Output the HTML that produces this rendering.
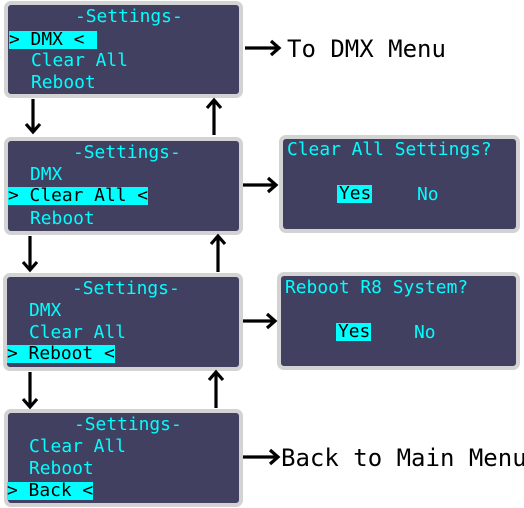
<!DOCTYPE html>
<html><head><style>
body{margin:0;width:524px;height:508px;background:#fff;position:relative;overflow:hidden;font-family:"DejaVu Sans Mono","Liberation Mono",monospace}
.b{position:absolute;background:#414061;border:4.5px solid #d3d3d3;border-radius:7px;box-sizing:border-box}
.t{position:absolute;font-size:17.9px;line-height:18px;color:#00ffff;white-space:pre}
.h{background:#00ffff;color:#000}
.big{position:absolute;font-size:24px;line-height:26px;color:#000;white-space:pre;font-family:"DejaVu Sans Mono",monospace}
svg{position:absolute;left:0;top:0}
</style></head><body>
<div class="b" style="left:4px;top:1px;width:239px;height:97px"></div>
<div class="b" style="left:4px;top:137px;width:239px;height:98px"></div>
<div class="b" style="left:3px;top:273px;width:240px;height:98px"></div>
<div class="b" style="left:4px;top:409px;width:239px;height:98px"></div>
<div class="b" style="left:279px;top:135px;width:241px;height:98px"></div>
<div class="b" style="left:277px;top:272px;width:243px;height:98px"></div>

<div class="t" style="left:75px;top:8px">-Settings-</div>
<div class="t h" style="left:9px;top:31px;width:88px">&gt; DMX &lt;</div>
<div class="t" style="left:31px;top:52px">Clear All</div>
<div class="t" style="left:31px;top:74px">Reboot</div>

<div class="t" style="left:73px;top:144px">-Settings-</div>
<div class="t" style="left:30px;top:166px">DMX</div>
<div class="t h" style="left:8px;top:187px">&gt; Clear All &lt;</div>
<div class="t" style="left:30px;top:210px">Reboot</div>

<div class="t" style="left:72px;top:280px">-Settings-</div>
<div class="t" style="left:29px;top:302px">DMX</div>
<div class="t" style="left:29px;top:324px">Clear All</div>
<div class="t h" style="left:7px;top:345px">&gt; Reboot &lt;</div>

<div class="t" style="left:74px;top:416px">-Settings-</div>
<div class="t" style="left:29px;top:438px">Clear All</div>
<div class="t" style="left:29px;top:460px">Reboot</div>
<div class="t h" style="left:7px;top:482px">&gt; Back &lt;</div>

<div class="t" style="left:287px;top:141px">Clear All Settings?</div>
<div class="t h" style="left:337px;top:185px;width:35px;padding-left:2px;box-sizing:border-box">Yes</div>
<div class="t" style="left:417px;top:186px">No</div>

<div class="t" style="left:285px;top:279px">Reboot R8 System?</div>
<div class="t h" style="left:336px;top:323px;width:35px;padding-left:2px;box-sizing:border-box">Yes</div>
<div class="t" style="left:414px;top:324px">No</div>

<div class="big" style="left:287px;top:36px">To DMX Menu</div>
<div class="big" style="left:281px;top:445px">Back to Main Menu</div>

<svg width="524" height="508" fill="none" stroke="#000" stroke-width="3.2">
<path d="M33 99V132M26 124l7 8 7-8"/>
<path d="M214 135V101M207 108l7-8 7 8"/>
<path d="M30 236V270M23 262l7 8 7-8"/>
<path d="M218 272V237M211 244l7-8 7 8"/>
<path d="M30 372V407M23 399l7 8 7-8"/>
<path d="M216 408V373M209 380l7-8 7 8"/>
<path d="M245 48H279M271 41l8 7-8 7"/>
<path d="M243 185H276M268 178l8 7-8 7"/>
<path d="M243 321H275M267 314l8 7-8 7"/>
<path d="M243 457H278M270 450l8 7-8 7"/>
</svg>
</body></html>
